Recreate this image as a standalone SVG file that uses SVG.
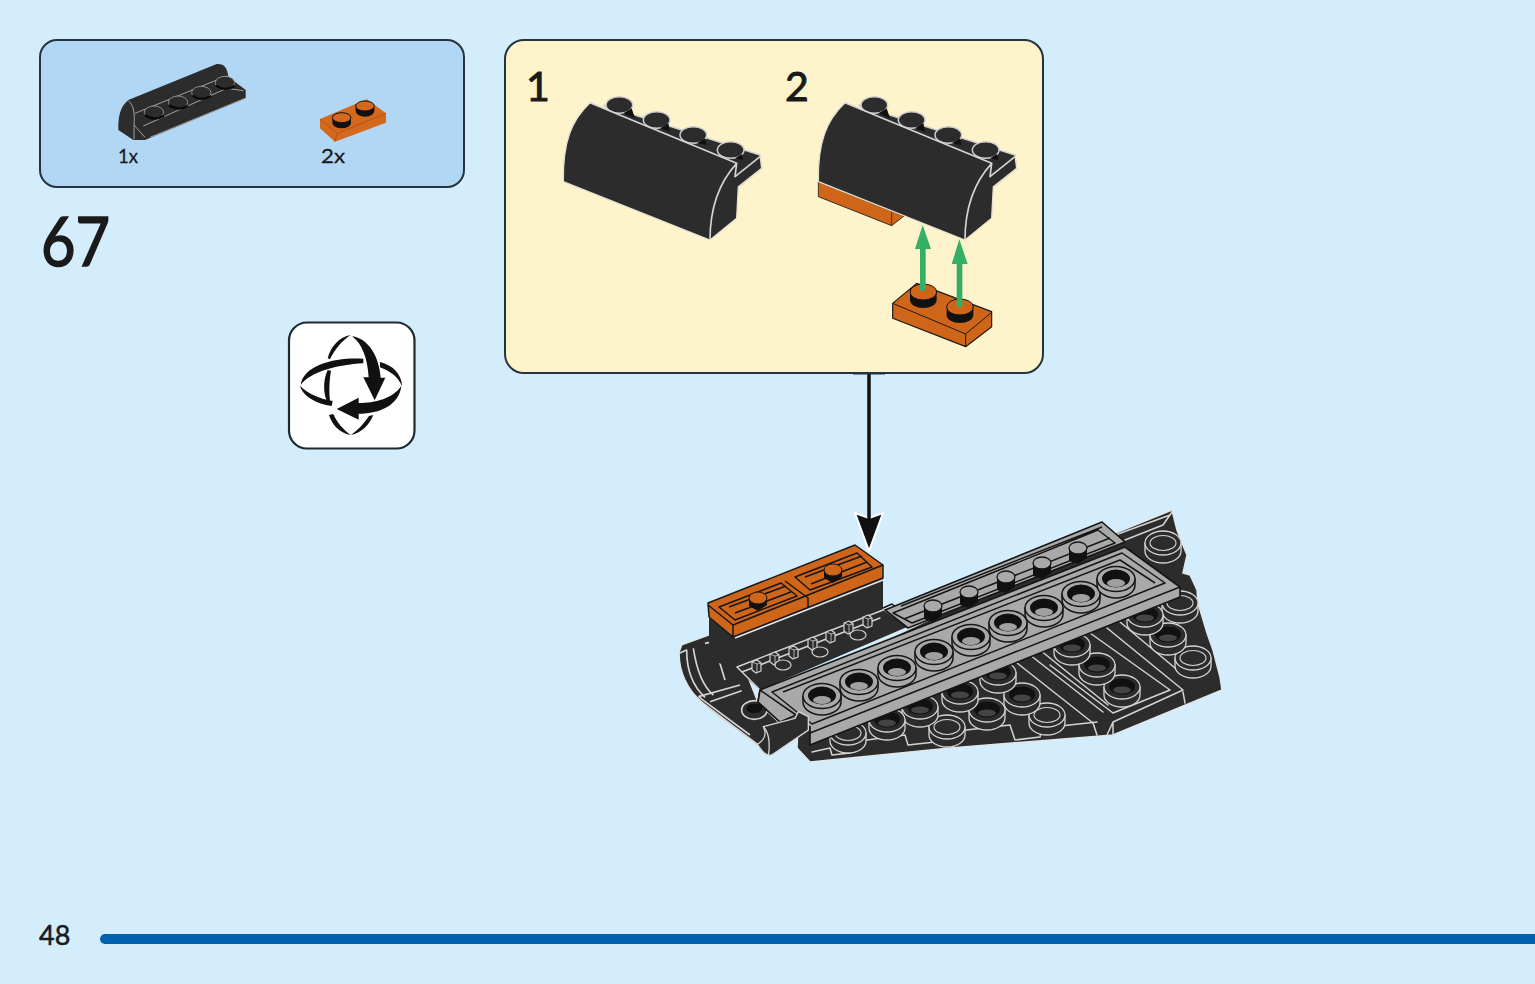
<svg xmlns="http://www.w3.org/2000/svg" width="1535" height="984" viewBox="0 0 1535 984">
<style>
.panel{stroke:#25343c;stroke-width:2}
.t{font-family:"Lato","Noto Sans","Liberation Sans",sans-serif;fill:#1a1a1a;stroke:#1a1a1a}
.dk{fill:#2c2c2c}
.or{fill:#cf6519;stroke:#1a1a1a;stroke-linejoin:round}
.gr{fill:#a9a9a9;stroke:#161616;stroke-width:1.6;stroke-linejoin:round}
.ln{fill:none;stroke:#d4d4d4;stroke-width:1.5;stroke-linejoin:round;stroke-linecap:round}
.bl{fill:none;stroke:#161616;stroke-width:1.5;stroke-linejoin:round}
.ic{fill:#111}
</style>
<defs>
<g id="ring">
<path d="M-19,0 V6 A19,13 0 0 0 19,6 V0 Z" fill="#a9a9a9" stroke="#161616" stroke-width="1.5"/>
<ellipse rx="19" ry="12.5" fill="#a9a9a9" stroke="#161616" stroke-width="1.5"/>
<ellipse cy="-.5" rx="14" ry="9" fill="#111"/>
<ellipse cy="4" rx="9" ry="4" fill="#a0a0a0"/>
</g>
<g id="stud">
<path d="M-18,0 V8 A18,12 0 0 0 18,8 V0 Z" fill="#2c2c2c" stroke="#d4d4d4" stroke-width="1.300"/>
<ellipse rx="18" ry="12" fill="#2c2c2c" stroke="#d4d4d4" stroke-width="1.300"/>
<ellipse cy="-.5" rx="13" ry="8" fill="#111"/>
<ellipse cy="3" rx="9" ry="3.500" fill="#444"/>
</g>
<g id="hstud">
<path d="M-18,0 V8 A18,12 0 0 0 18,8 V0 Z" fill="#2c2c2c" stroke="#d4d4d4" stroke-width="1.300"/>
<ellipse rx="18" ry="12" fill="#2c2c2c" stroke="#d4d4d4" stroke-width="1.300"/>
<ellipse cy="0" rx="13" ry="7.500" fill="#2c2c2c" stroke="#d4d4d4" stroke-width="1.100"/>
</g>
<g id="gstud">
<path d="M-9,0 V13 L0,16 L9,10 V0 Z" fill="#111"/>
<ellipse rx="9" ry="6" fill="#a9a9a9" stroke="#161616" stroke-width="1.300"/>
</g>
<g id="pip">
<path d="M-4,-5 L1,-7 L5,-4 V4 L0,6 L-4,3 Z" fill="#2c2c2c" stroke="#d4d4d4" stroke-width="1.200" stroke-linejoin="round"/>
<path d="M-4,-5 L1,-3 L5,-4 M1,-3 V6" fill="none" stroke="#d4d4d4" stroke-width=".8"/>
</g>
<g id="ostud">
<path d="M-9,0 V8 L0,13 L9,7 V0 Z" fill="#111"/>
<ellipse rx="9" ry="6" fill="#cf6519" stroke="#161616" stroke-width="1"/>
</g>
<g id="slope">
<g transform="translate(540 80) scale(.33333)">
<path d="M190,75 L660,225 L665,265 L590,325 L500,300 Z" fill="#2c2c2c" stroke="#cfcfcf" stroke-width="4.500"/>
<g fill="#2c2c2c" stroke="#cfcfcf" stroke-width="4.500">
<ellipse cx="238" cy="75" rx="40" ry="25"/><ellipse cx="350" cy="120" rx="40" ry="25"/><ellipse cx="460" cy="165" rx="40" ry="25"/><ellipse cx="572" cy="210" rx="40" ry="25"/>
</g>
<g fill="#111"><path d="M275,85 L285,115 L250,100 Z"/><path d="M385,130 L390,155 L360,145 Z"/><path d="M495,175 L500,195 L470,190 Z"/><path d="M605,222 L610,240 L585,235 Z"/></g>
<path d="M150,68 C95,120 68,185 70,305 L510,480 L590,415 L595,320 L665,265 L660,225 L590,285 L590,250 Z" fill="#2c2c2c"/>
<path d="M150,68 L590,250 L585,290 L660,230 M590,250 C535,310 510,390 510,480" fill="none" stroke="#d4d4d4" stroke-width="5" stroke-linejoin="round"/>
<path d="M150,68 C95,120 68,185 70,305 L510,480 L590,415 L595,320 L665,265 L660,225" fill="none" stroke="#e6e2d0" stroke-width="4" stroke-linejoin="round"/>
</g>
</g>
</defs>
<rect width="1535" height="984" fill="#d3edfd"/>
<g id="parts-panel">
<rect class="panel" x="40" y="40" width="424" height="147" rx="17" fill="#b2d7f5"/>
<g id="part-slope" transform="translate(100 50) scale(.33333)">
<path d="M55,235 C55,200 60,170 85,150 L350,42 C370,40 382,50 385,80 L437,120 V145 L135,270 H100 L55,240 Z" fill="#2c2c2c"/>
<path d="M85,152 C100,165 105,185 102,230 V268 M102,225 L135,262 M105,190 L380,78 M130,228 L380,115 L430,122 M150,262 L435,145" fill="none" stroke="#a0a0a0" stroke-width="3"/>
<g fill="#2c2c2c" stroke="#a0a0a0" stroke-width="2.500">
<ellipse cx="162" cy="187" rx="29" ry="19"/><ellipse cx="234" cy="157" rx="29" ry="19"/><ellipse cx="304" cy="128" rx="29" ry="19"/><ellipse cx="375" cy="98" rx="29" ry="19"/>
</g>
<path d="M135,195 Q160,215 192,197 M207,165 Q232,185 264,167 M277,136 Q302,156 334,138 M348,106 Q373,126 405,108" fill="none" stroke="#0a0a0a" stroke-width="7"/>
</g>
<g id="part-plate" transform="translate(100 50) scale(.33333)">
<path d="M660,207 L800,148 L858,190 V218 L705,275 L660,235 Z" fill="#d4681c"/>
<path d="M660,207 L712,250 L858,190 M712,250 L705,275" fill="none" stroke="#a34c0e" stroke-width="2"/>
<path d="M697,205 V218 A28,17 0 0 0 753,218 V205 Z" fill="#111"/>
<ellipse cx="725" cy="203" rx="28" ry="15" fill="#d4681c" stroke="#111" stroke-width="3"/>
<path d="M767,170 V183 A28,17 0 0 0 823,183 V170 Z" fill="#111"/>
<ellipse cx="795" cy="168" rx="28" ry="15" fill="#d4681c" stroke="#111" stroke-width="3"/>
</g>
<text class="t" x="118" y="163" font-size="20" stroke-width=".3" textLength="20" lengthAdjust="spacingAndGlyphs">1x</text>
<text class="t" x="321" y="163" font-size="20" stroke-width=".3" textLength="24" lengthAdjust="spacingAndGlyphs">2x</text>
</g>
<text id="step-number" class="t" x="41" y="266" font-size="68" stroke-width="1.600" textLength="69" lengthAdjust="spacingAndGlyphs">67</text>
<g id="rotate-icon">
<rect x="289" y="322.500" width="125.500" height="126" rx="18" fill="#fff" stroke="#1e2a30" stroke-width="2.200"/>
<g transform="translate(280 315) scale(.33333)" class="ic">
<path d="M212,60 C178,65 152,95 143,130 L150,133 C165,102 185,78 212,60 Z"/>
<path d="M216,64 C265,70 298,125 302,188 H316 L284,256 L250,187 H266 C262,130 248,88 216,64 Z"/>
<path d="M250,131 C170,126 70,148 62,210 C92,170 170,150 250,145 Z"/>
<path d="M300,141 C338,150 366,178 366,214 C355,186 330,168 300,157 Z"/>
<path d="M60,212 C68,244 110,266 155,273 L158,258 C115,250 82,235 60,212 Z"/>
<path d="M143,165 C129,195 129,235 143,264 L151,262 C146,235 148,195 153,167 Z"/>
<path d="M364,212 C358,270 300,296 236,296 V314 L170,282 L236,248 V264 C285,264 340,250 364,212 Z"/>
<path d="M147,300 C157,332 180,354 212,360 C192,345 172,325 160,297 Z"/>
<path d="M280,300 C267,332 243,354 213,360 C233,345 253,325 267,303 Z"/>
</g>
</g>
<g id="sub-panel">
<rect class="panel" x="505" y="40" width="538" height="333" rx="19" fill="#fef4cb"/>
<text class="t" x="526" y="101" font-size="41" stroke-width="1">1</text>
<text class="t" x="785" y="101" font-size="41" stroke-width="1">2</text>
<use id="sub-slope-1" href="#slope"/>
<g id="sub-orange" transform="translate(800 80) scale(.33333)">
<path d="M55,305 V350 L275,437 L312,408 Z" fill="#cf6519" stroke="#1a1a1a" stroke-width="2.500" stroke-linejoin="round"/>
<path d="M275,395 V437" stroke="#1a1a1a" stroke-width="2" fill="none"/>
</g>
<use id="sub-slope-2" href="#slope" x="255"/>
<g id="sub-plate" transform="translate(800 80) scale(.33333)">
<path d="M278,670 L350,610 L575,695 V740 L497,800 L278,715 Z" fill="#cf6519" stroke="#1a1a1a" stroke-width="3.500" stroke-linejoin="round"/>
<path d="M278,670 L497,762 L575,697 M497,762 V800" fill="none" stroke="#1a1a1a" stroke-width="3"/>
<path d="M330,637 V660 A40,24 0 0 0 410,660 V637 Z" fill="#111"/>
<ellipse cx="370" cy="636" rx="40" ry="24" fill="#cf6519" stroke="#111" stroke-width="3"/>
<path d="M440,682 V705 A40,24 0 0 0 520,705 V682 Z" fill="#111"/>
<ellipse cx="480" cy="681" rx="40" ry="24" fill="#cf6519" stroke="#111" stroke-width="3"/>
</g>
<g id="green-arrows" transform="translate(800 80) scale(.33333)" fill="#35ae66">
<path d="M360,632 V507 H345 L368,435 L393,507 H377 V632 Z"/>
<path d="M470,680 V552 H455 L478,478 L503,552 H487 V680 Z"/>
</g>
</g>
<g id="model">
<path id="base" d="M797,748 L810,762 L950,748 L1113,735 L1222,690 L1220,677 L1213,650 L1207,633 L1198,603 L1197,590 L1190,575 L1183,573 L1187,555 L1182,543 L1177,530 L1172,510 L1118,532 L1100,540 L800,680 Z" fill="#2c2c2c" stroke="#e2e8ea" stroke-width="1.500" stroke-linejoin="round"/>
<path class="ln" d="M1118,534 L1170,515 M1125,540 L1163,525 L1172,512 M1017,663 L1093,723 L1097,735 M1030,655 L1103,712 M1040,650 L1108,705 M1090,633 L1170,690 L1113,713 L1050,665 M1107,628 L1183,690 L1113,722 L1107,735 M1113,722 L1113,735 M1183,692 L1185,703 M1120,622 L1175,668"/>
<path class="ln" d="M812,752 L830,748 L832,755 L850,753 L852,742 L905,735 L908,745 L935,742 L940,733 L1010,725 L1015,740 L1040,737 L1042,728 L1097,722"/>
<g id="base-studs">
<use href="#hstud" x="1163" y="543"/><use href="#hstud" x="1180" y="603"/><use href="#hstud" x="1193" y="658"/><use href="#stud" x="1168" y="635"/><use href="#stud" x="1145" y="615"/><use href="#stud" x="1122" y="687"/><use href="#stud" x="1097" y="665"/><use href="#stud" x="1072" y="645"/><use href="#hstud" x="1047" y="715"/><use href="#stud" x="1022" y="695"/><use href="#stud" x="998" y="673"/><use href="#stud" x="987" y="710"/><use href="#stud" x="960" y="692"/><use href="#hstud" x="947" y="727"/><use href="#stud" x="920" y="707"/><use href="#stud" x="887" y="720"/><use href="#hstud" x="848" y="733"/>
</g>
<g id="curved" transform="translate(670 500) scale(.33333)">
<path d="M28,455 L35,435 L130,400 L190,420 L265,610 L330,670 L415,650 L415,690 L305,765 C285,770 275,745 262,733 L100,610 C50,570 25,510 28,455 Z" fill="#2c2c2c" stroke="#e2e8ea" stroke-width="4" stroke-linejoin="round"/>
<path d="M28,460 L50,450 C50,510 70,560 105,592 M70,445 C80,510 100,560 130,585 M105,430 L130,425 L165,540 M85,590 L210,555 M120,605 L215,572 M85,590 L240,705 M110,620 L262,733" fill="none" stroke="#d4d4d4" stroke-width="5" stroke-linejoin="round"/>
<ellipse cx="253" cy="630" rx="38" ry="28" fill="#2c2c2c" stroke="#d4d4d4" stroke-width="5"/>
<ellipse cx="253" cy="625" rx="24" ry="14" fill="#111"/>
</g>
<g id="block">
<path d="M709,618 V660 L735,668 L760,690 L907,627 L883,610 V570 L735,630 Z" fill="#2c2c2c"/>
<path class="ln" d="M737,667 L883,610 M742,672 L880,618 M737,667 L760,690"/>
<path d="M883,608 L892,604 L907,617" class="bl"/>
<use href="#pip" x="756" y="667"/><use href="#pip" x="774" y="659"/><use href="#pip" x="793" y="653"/><use href="#pip" x="812" y="644"/><use href="#pip" x="830" y="637"/><use href="#pip" x="848" y="628"/><use href="#pip" x="867" y="622"/>
<g fill="#2c2c2c" stroke="#d4d4d4" stroke-width="1.200"><ellipse cx="783" cy="665" rx="8" ry="5"/><ellipse cx="820" cy="652" rx="8" ry="5"/><ellipse cx="858" cy="635" rx="8" ry="5"/></g>
</g>
<g id="orange-plates">
<path class="or" stroke-width="1.500" d="M708,603 L855,545 L883,565 V578 L733,637 L709,617 Z"/>
<path class="bl" d="M708,605 L733,625 L883,565 M733,625 V637 M785,581 L808,598 V607"/>
<path d="M735,638 L883,580" fill="none" stroke="#e6e6e6" stroke-width="1.500"/>
<path class="bl" d="M719,607 L781,583 L797,596 L735,620 Z M795,577 L857,553 L872,567 L810,590 Z M729,607 L786,586 M735,613 L791,592 M805,577 L862,556 M811,584 L867,562"/>
<use href="#ostud" x="758" y="598"/><use href="#ostud" x="833" y="570"/>
</g>
<g id="rear-plate">
<path class="gr" d="M885,610 L1102,522 L1125,542 L908,628 Z"/>
<path class="bl" d="M893,613 L1098,530 L1115,543 L912,623 Z M901,606 L1102,527 M904,619 L1110,538"/>
<use href="#gstud" x="933" y="606"/><use href="#gstud" x="969" y="592"/><use href="#gstud" x="1006" y="577"/><use href="#gstud" x="1042" y="563"/><use href="#gstud" x="1078" y="548"/>
</g>
<g id="front-plate">
<path class="gr" d="M760,690 L1125,547 L1180,587 V597 L810,745 V727 L795,718 L780,722 L758,702 Z"/>
<path class="bl" d="M772,692 L1122,553 L1165,583 L812,724 Z M783,692 L1120,560 L1155,583 M810,733 L1180,587"/>
<path class="gr" d="M760,690 L796,715 L780,722 L758,702 Z"/>
<g id="rings">
<use href="#ring" x="822" y="696"/><use href="#ring" x="859" y="682"/><use href="#ring" x="897" y="668"/><use href="#ring" x="934" y="652"/><use href="#ring" x="971" y="637"/><use href="#ring" x="1008" y="623"/><use href="#ring" x="1044" y="608"/><use href="#ring" x="1081" y="594"/><use href="#ring" x="1116" y="579"/>
</g>
</g>
<g id="end-cap" transform="translate(670 500) scale(.33333)">
<path d="M280,680 L375,655 L385,635 L415,650 V690 L305,765 C285,770 275,750 262,733 C285,720 290,700 280,680 Z" fill="#2c2c2c" stroke="#d4d4d4" stroke-width="4" stroke-linejoin="round"/>
<path d="M280,680 C300,700 300,740 295,768" fill="none" stroke="#d4d4d4" stroke-width="4"/>
</g>
</g>
<g id="connectors">
<path d="M855,513 L869,518 L883,513 L869,551 Z" fill="#111" stroke="#fff" stroke-width="2" stroke-linejoin="round"/>
<path d="M869,373 V520" fill="none" stroke="#111" stroke-width="3.500"/>
<path d="M853,373.500 H885" fill="none" stroke="#1e3442" stroke-width="2"/>
</g>
<g id="footer">
<text class="t" x="39" y="945" font-size="27" stroke-width=".5">48</text>
<path d="M105,934 H1535 V944 H105 A5,5 0 0 1 105,934 Z" fill="#0061ae"/>
</g>
</svg>
